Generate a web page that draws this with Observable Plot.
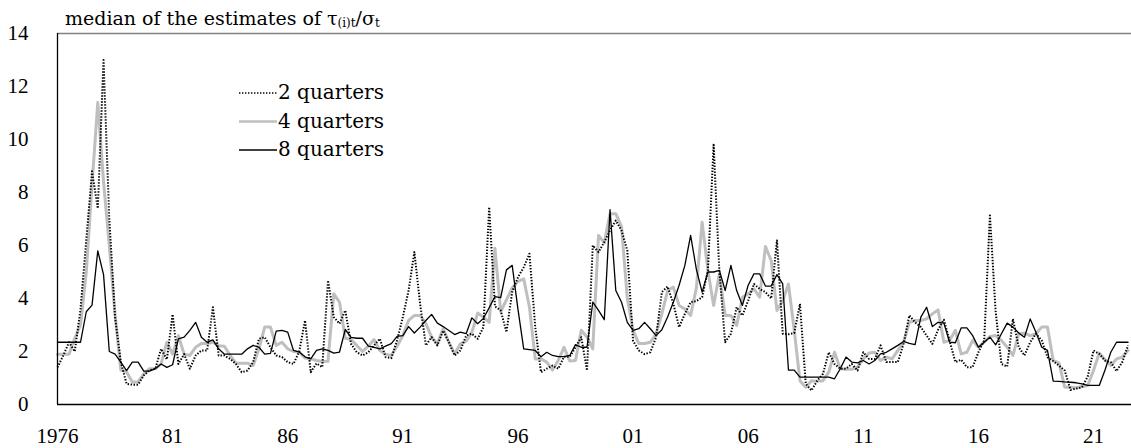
<!DOCTYPE html>
<html><head><meta charset="utf-8">
<script src="https://cdn.jsdelivr.net/npm/d3@7"></script>
<script src="https://cdn.jsdelivr.net/npm/@observablehq/plot@0.6"></script>
<style>
body{margin:0;background:#fff;}
#wrap{position:relative;width:1131px;height:448px;}
</style></head><body><div id="wrap"></div>
<script>
const startYear = 1976;
const seriesNames = ["2 quarters", "4 quarters", "8 quarters"];
const q2 = [1.4,1.85,2.35,2.0,3.6, 6.2,8.8,7.4,13.0,7.0, 3.3,1.6,0.78,0.75,0.75, 1.1,1.29,1.35,2.1,1.7,
 3.4,1.53,1.9,1.35,1.85, 2.04,2.04,3.67,1.85,1.85, 1.72,1.53,1.22,1.28,1.6, 2.48,2.54,2.16,1.85,1.79,
 1.6,1.53,2.0,3.17,1.22, 1.55,1.41,4.68,3.3,3.05, 3.55,2.29,1.97,1.85,1.97, 2.23,2.48,1.79,1.75,2.42,
 3.3,4.3,5.75,3.8,2.23, 2.54,2.23,2.79,2.35,1.85, 2.04,2.6,2.67,2.48,2.92, 7.45,3.7,3.55,2.73,4.25,
 4.8,5.18,5.69,2.92,1.22, 1.35,1.47,1.35,1.8,1.8, 2.16,2.54,1.28,6.0,5.75, 6.13,6.57,6.94,6.57,5.81,
 2.4,2.04,1.9,1.97,2.54, 4.24,4.45,3.8,2.92,3.42, 3.86,3.9,4.05,5.06,9.8, 5.0,2.35,2.67,3.67,3.36,
 3.92,4.55,4.36,4.24,4.0, 6.19,2.67,2.65,2.7,3.8, 0.78,0.53,0.9,1.16,1.97, 1.53,1.35,1.35,1.53,1.28,
 1.97,1.72,1.72,2.23,1.6, 1.6,1.6,2.29,3.36,3.1, 2.92,2.6,2.29,2.82,3.2, 2.4,1.6,1.69,1.41,1.41,
 1.97,2.42,7.13,3.5,1.53, 1.43,3.23,2.16,1.85,2.35, 2.67,2.42,1.79,1.64,1.47, 1.28,0.55,0.6,0.65,1.06,
 2.04,1.91,1.66,1.6,1.26, 1.6,2.23];
const q4 = [1.9,1.9,1.9,2.5,3.0, 5.0,8.3,11.4,8.4,6.0, 3.4,1.3,1.23,0.85,0.85, 1.16,1.35,1.35,1.53,2.35,
 1.9,2.6,1.9,1.85,2.16, 2.3,2.3,2.35,2.22,2.2, 1.85,1.56,1.56,1.56,1.47, 2.1,2.92,2.92,2.23,2.35,
 2.1,2.0,1.98,1.75,1.72, 1.66,1.62,1.63,4.18,3.86, 2.5,2.45,2.23,2.0,2.2, 2.45,2.04,1.9,1.85,2.2,
 2.6,3.17,3.36,3.36,3.05, 2.54,2.29,2.86,2.35,1.91, 2.29,2.39,2.73,3.45,3.3, 3.1,5.9,3.5,3.95,4.4,
 4.65,4.74,3.67,1.72,1.72, 1.6,1.3,1.66,2.16,1.64, 1.66,2.8,2.54,2.1,6.38, 6.1,7.2,7.2,6.7,4.0,
 2.8,2.3,2.3,2.35,2.67, 3.42,4.3,4.43,3.74,3.6, 3.36,4.4,6.88,5.06,3.74, 4.93,3.36,3.36,2.98,4.05,
 4.18,4.36,4.05,5.96,5.43, 3.55,3.92,4.55,2.8,0.9, 0.65,0.9,0.88,0.9,1.22, 1.97,1.35,1.33,1.33,1.41,
 1.72,1.94,1.97,1.66,1.79, 1.72,2.04,2.35,3.1,3.17, 3.17,3.23,3.42,3.57,2.35, 2.42,2.8,1.91,1.97,2.42,
 2.16,2.35,2.57,2.6,2.42, 2.16,1.85,2.67,2.69,2.6, 2.67,2.92,2.92,1.66,1.57, 0.65,0.65,0.63,0.68,0.72,
 1.28,1.94,1.69,1.47,1.72, 1.79,2.04];
const q8 = [2.35,2.35,2.35,2.35,2.35, 3.5,3.75,5.8,4.9,2.0, 1.9,1.6,1.28,1.6,1.6, 1.26,1.26,1.35,1.53,1.4,
 1.5,2.48,2.54,2.8,3.1, 2.54,2.35,2.44,2.1,1.9, 1.9,1.9,1.9,2.1,2.23, 2.16,1.9,1.93,2.77,2.8,
 2.73,2.04,1.98,1.8,1.72, 2.04,2.1,2.04,1.94,1.98, 2.83,2.53,2.5,2.5,2.2, 2.16,2.1,2.2,2.3,2.57,
 2.6,2.94,2.7,2.92,3.17, 3.4,3.07,2.94,2.79,2.64, 2.73,2.67,3.27,3.05,3.25, 3.65,4.07,4.03,5.08,5.25,
 3.6,2.1,2.07,2.04,1.8, 1.97,1.85,1.81,1.81,1.85, 2.26,2.16,2.16,3.86,3.55, 3.2,7.35,4.3,3.86,3.1,
 2.8,2.86,3.1,2.86,2.6, 2.82,3.3,3.86,4.5,5.25, 6.38,5.1,4.24,5.0,5.0, 5.06,4.3,5.25,4.3,3.74,
 4.5,4.93,4.93,4.47,4.47, 4.9,4.55,1.3,1.3,1.03, 1.03,1.03,1.03,1.03,1.03, 0.97,1.35,1.79,1.6,1.57,
 1.66,1.53,1.66,1.91,1.97, 2.1,2.23,2.38,2.31,2.26, 3.3,3.67,2.94,3.1,3.07, 2.35,2.33,2.89,2.89,2.6,
 2.16,2.35,2.54,2.25,2.67, 3.07,2.92,2.7,2.54,3.23, 2.73,2.16,2.04,0.88,0.87, 0.85,0.84,0.82,0.78,0.72,
 0.72,0.72,1.3,1.97,2.35, 2.35,2.35];
const yTicks = [0, 2, 4, 6, 8, 10, 12, 14];
const xTickYears = [1976, 1981, 1986, 1991, 1996, 2001, 2006, 2011, 2016, 2021];

const toRows = (vals, name) => vals.map((v, i) => ({t: startYear + i / 4, v, s: name}));
const d2 = toRows(q2, seriesNames[0]);
const d4 = toRows(q4, seriesNames[1]);
const d8 = toRows(q8, seriesNames[2]);

const font = "'Liberation Serif', serif";
const textFont = "'DejaVu Serif', serif";
const styles = {
  "2 quarters": {stroke: "#000", strokeWidth: 2, strokeDasharray: "1.4 1.6", legendWidth: 1.5},
  "4 quarters": {stroke: "#bfbfbf", strokeWidth: 3, strokeDasharray: null, legendWidth: 2.5},
  "8 quarters": {stroke: "#000", strokeWidth: 1.3, strokeDasharray: null, legendWidth: 1.3}
};

const chart = Plot.plot({
  width: 1131, height: 448,
  marginTop: 33, marginBottom: 44, marginLeft: 57, marginRight: 0,
  style: {fontFamily: font, fontSize: "21px", background: "#fff", color: "#000", overflow: "visible"},
  x: {domain: [1976, 2022.65], ticks: xTickYears, tickSize: 0, tickPadding: 24, label: null,
      tickFormat: d => d === 1976 ? "1976" : String(d % 100).padStart(2, "0")},
  y: {domain: [0, 14], ticks: yTicks, tickSize: 0, tickPadding: 29, label: null},
  marks: [
    Plot.ruleY([14], {stroke: "#808080", strokeWidth: 1.5}),
    Plot.line(d4, {x: "t", y: "v", stroke: styles["4 quarters"].stroke, strokeWidth: 3, strokeLinejoin: "round"}),
    Plot.line(d2, {x: "t", y: "v", stroke: "#000", strokeWidth: styles["2 quarters"].strokeWidth,
      strokeDasharray: styles["2 quarters"].strokeDasharray, strokeLinecap: "butt"}),
    Plot.line(d8, {x: "t", y: "v", stroke: "#000", strokeWidth: 1.3}),
    Plot.ruleY([0], {stroke: "#000", strokeWidth: 1.5}),
    Plot.ruleX([1976], {stroke: "#000", strokeWidth: 1.3})
  ]
});
document.getElementById("wrap").appendChild(chart);

const svg = d3.select(chart);
// title
const title = svg.append("text").attr("x", 65).attr("y", 25).attr("text-anchor", "start")
  .attr("font-family", textFont).attr("font-size", 19).attr("fill", "#000");
title.append("tspan").text("median of the estimates of τ");
title.append("tspan").attr("font-size", 12).attr("dy", 2).text("(i)t");
title.append("tspan").attr("dy", -2).text("/σ");
title.append("tspan").attr("font-size", 12).attr("dy", 2).text("t");

// legend
const lg = svg.append("g");
seriesNames.forEach((name, k) => {
  const y = 93 + k * 28.5;
  const st = styles[name];
  lg.append("line").attr("x1", 239).attr("x2", 277).attr("y1", y).attr("y2", y)
    .attr("stroke", st.stroke).attr("stroke-width", st.legendWidth)
    .attr("stroke-dasharray", st.strokeDasharray);
  lg.append("text").attr("x", 278).attr("y", y).attr("dy", "0.32em").attr("text-anchor", "start")
    .attr("font-family", textFont).attr("font-size", 20).attr("fill", "#000").text(name);
});
</script>
</body></html>
